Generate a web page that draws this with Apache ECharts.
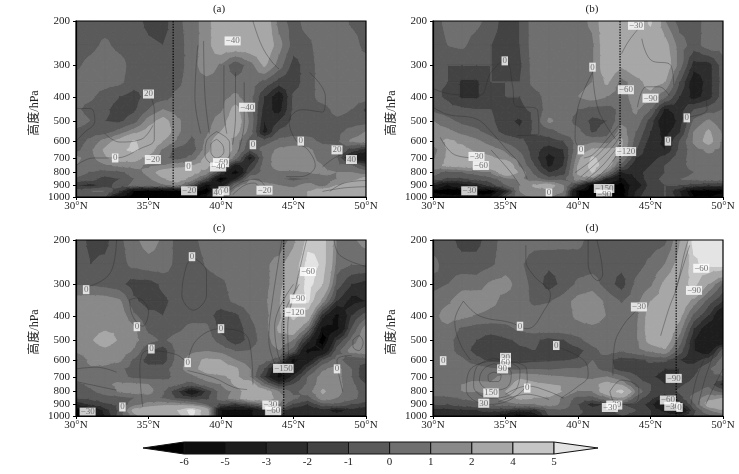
<!DOCTYPE html>
<html><head><meta charset="utf-8"><style>html,body{margin:0;padding:0;background:#fff}#c{width:739px;height:474px}</style>
<script src="https://cdn.jsdelivr.net/npm/echarts@6/dist/echarts.min.js"></script></head><body><div id="c"></div>
<script>
const lats=[30,31,32,33,34,35,36,37,38,39,40,41,42,43,44,45,46,47,48,49,50];
const pressures=[200,250,300,350,400,450,500,550,600,650,700,750,800,850,900,950,1000];
const pressureTicks=[200,300,400,500,600,700,800,900,1000];
const latTicks=[30,35,40,45,50];
const levels=[-6,-5,-3,-2,-1,0,1,2,4,5];
const shades=['#000000','#0e0e0e','#1d1d1d','#2d2d2d','#434343','#5a5a5a','#6f6f6f','#898989','#a7a7a7','#c6c6c6','#e4e4e4'];
const fieldA=[
[-.5,-.5,-.5,-.5,-.6,-1.3,-1.5,-.3,.5,1.5,3,3,3,3,.5,-.5,.5,.6,.6,-.2,-.5],
[-.5,-.3,.2,-.3,-.5,-.8,-1,-.5,.5,1.5,3,3,3,3,1.4,-.5,-.3,.6,.6,.5,-.4],
[-.2,.3,.6,.4,-.5,-.5,-.5,-.5,.5,1.7,.8,-.8,.5,2.2,.5,-1.5,-.5,.5,.6,.6,.5],
[.4,.4,.4,.2,-.5,-.5,-.5,-.3,.6,.6,.6,.3,.5,-.3,-1.5,-1.5,-.5,.5,.6,.6,.5],
[.3,.2,-.5,-1,-1.5,-.5,-.5,.3,.6,.6,.6,1.2,.4,-2,-4,-.8,-.5,.5,.6,.6,.5],
[.2,-.4,-.8,-1.5,-1.2,0,1,.5,.5,.5,.8,2.5,.5,-2.5,-3.5,-.8,-.5,-.5,.4,0,-1.2],
[.5,0,-1,-1.2,-.5,1.5,2.5,1.2,.3,.5,1.5,2.8,.8,-3,-2,-.7,-.5,-.5,-.3,-.5,-.5],
[-.3,-.5,-.6,.3,1.5,2.5,3,1.2,.2,.7,2,2.5,.5,-3.5,-.8,-.5,-.5,-.5,-.3,.3,1],
[-.5,.2,1.4,2.5,4.2,3,2,.8,-.3,1.2,3.2,1.5,-.5,-.6,.3,.5,.4,-.3,-.2,1.2,1.5],
[-.4,.8,2.2,3.5,4.5,2.8,.8,-.5,-.6,1.5,3.5,1.5,-1,.5,1.2,1.4,1.2,.5,.2,-1.5,-2.5],
[1.2,.6,1.8,2.6,2.6,1.5,.3,-.5,.3,2.4,3,.5,-3.5,.2,1.8,1.4,1.4,.6,0,-4,-5],
[1,.5,.8,1.2,1.3,.8,1,1.5,2,2.5,1,-3.5,-2,.5,1.5,1.4,1.4,1,.4,0,-1.5],
[.5,-.1,-.5,-.3,.5,1.3,2.7,3,2.5,1.5,-2,-6,-1,.5,.8,.8,1,1.2,1,1,.5],
[-.3,-.6,-1.5,-1,0,.8,1.8,2.7,1.5,-1,-6.5,-3,1,.3,.2,-.3,0,.5,1,1.5,2.5],
[-2,-2.5,-1.5,-.5,.3,.5,.7,1.2,-1,-5.5,-4,.5,1.8,1.5,1,.7,1.5,.5,2,3,3],
[-.5,0,0,-2,-6,-7,-7,-6.5,-6.5,-7,-1,1.5,2,1.5,1.5,1.5,2,3,3,2.5,3],
[-1,-1,-1,-5,-7,-7,-7,-7,-7,-5,.5,1.5,1.5,1.5,1.5,1.5,2,3,3,3,3]];
const fieldB=[
[-.5,.3,.5,.3,-.5,-1.5,-1,.6,.6,.6,.6,1.2,3,3,3,4.2,1,-.5,-.6,.5,.5],
[-.7,0,.2,-.5,-1,-1.5,-1,.6,.6,.6,.6,.8,3,3.2,3.3,3.3,2.5,.5,-.5,.5,.5],
[-.5,-1,-1,-1,-1,-1.3,-1.2,.5,.6,.6,.6,.8,3,2.2,3,3.2,3,.5,-2.5,-2.5,-.5],
[-1,-1,-2.2,-2.2,-1,-1,-1,.4,.6,.6,.6,1,2.2,.6,1.5,2.5,2,-1,-4,-2.5,-.6],
[-.7,-1.2,-2.2,-2.2,-1.2,-1,-1,-.5,.5,.5,1,1.5,1,.5,1.5,1.6,.2,-2,-3.5,-2.5,-.5],
[-.3,-.6,-.8,-1,-1,-1.6,-1.2,-.8,.5,.4,0,-.5,-.5,.3,1.2,0,-3.2,-2.5,-1,-.5,0],
[1,.3,-.3,-.5,-.8,-1.7,-2.2,-.8,1.2,.5,-.4,-1.3,-1,.7,.7,-1.5,-4.5,-2.6,.2,1.2,.2],
[1.5,1.3,.6,.2,-.5,-1.5,-1.8,-.8,-.5,.4,.3,-1.2,-.5,1.5,0,-2,-3.5,-2.2,1,2.2,.8],
[1.5,2.2,1.8,1.2,.5,-.3,-.8,-1.5,-1.5,-1,.5,.7,.5,2.2,-.5,-2.5,-3.2,-1,1.2,2.5,.8],
[.5,2.1,2.3,1.8,1.4,.8,-.2,-1.6,-2.6,-2,.8,2.2,2.2,2,-1,-3,-3,-.8,.6,1.2,.7],
[.8,2.2,2.5,2.5,2.2,1.4,.5,-1.6,-3.5,-2.3,1.5,4.3,3,1,-2,-2.5,-1.6,-.5,.5,.7,.8],
[1.5,2.3,2.5,3,3,3.5,.8,-1,-3.3,-2,2,4.8,3,-.5,-3,-2,-1,-.3,.3,.8,.8],
[.5,-.5,0,.3,1,3,1.8,-.3,-2,-1.5,2.2,4.2,.8,-3,-2.5,-1.5,-1,-.4,0,.5,.5],
[-.6,-1.2,-1.2,-.8,-.5,.6,1.2,.5,-.6,-.3,1.5,.5,-3,-5.5,-3,-1.3,-.8,0,.2,.4,.4],
[-3,-5,-4,-3,-1.5,0,1,2.2,2.7,1,-2,-6.5,-6.5,-6.5,-4,-1.5,-1,-1,-1.5,-2,-2],
[-6.5,-7,-7,-7,-7,-3,1,1.5,1.5,1,-6,-7,-7,-7,-3,-1.2,-1,-3,-7,-7,-7],
[-5,-5.5,-5.5,-5.5,-5,-1,.8,1,1,.5,-6,-7,-7,-7,-2.5,-1,-1,-2.5,-6,-6,-5]];
const fieldC=[
[-.6,-1.2,-1.3,-.3,.7,1.5,.8,-.4,-.4,.5,.6,.6,.6,.3,0,1.5,4.5,4.8,1,.7,1.5],
[-.6,-1,-.8,-.4,.3,.6,.6,-.4,-.7,.1,.6,.6,.6,.7,1.5,3,5.5,4.8,.5,0,0],
[-.1,-.2,-.4,-.7,-1.5,-1.5,-.8,-.5,-.6,-.5,-.3,.5,.6,.7,1.5,3.2,5.5,4,-.5,-2,-2.5],
[1.5,1.6,1.6,1.2,-.8,-1.5,-1.2,-.7,-.7,-.5,-.4,.2,.6,.8,1.8,4.2,5.2,1.5,-2,-3.5,-3],
[1.6,1.7,1.8,1.7,.2,-.7,-1,-.6,-.6,-.5,-1.6,-1.3,0,.7,1.6,4.5,3,-2.5,-5.5,-2,-.5],
[1.7,1.8,1.9,1.9,1.2,-.3,-.7,-.3,.4,.3,-1.5,-1.8,-.4,.6,2.2,3,.5,-5.5,-5.5,-1,1.6],
[1.6,1.9,2.4,1.9,1.3,.4,-.2,.5,.6,.6,-.5,-1.8,-.6,.5,1.6,1,-2.5,-7,-2,.3,2],
[1.2,1.7,1.8,1.6,.9,-1,-1.6,.3,.7,.9,.6,-.1,0,.6,1,-.5,-5.5,-5,-.5,1.5,1.8],
[-.2,1.3,1.4,1.2,-.2,-1.5,-1.6,.4,1.6,2.2,2,1,.4,.4,-.5,-5.5,-4,-1,.5,-1,-.6],
[.8,.8,.7,.2,-.4,-.6,-.5,.6,1.6,2.5,2.6,2.2,1,-1,-5,-5,-1.5,.8,1.4,0,-2],
[.5,.6,.7,.4,-.3,-.5,-.4,.3,.7,1.5,1.8,2.3,1,-2,-5.5,-2.5,0,1.5,1.4,0,-2],
[-.3,.2,.8,1.2,1.2,1,.6,.1,-.5,.5,1,2.2,3,.2,-2,-1,.2,1.6,1.4,.3,-1],
[-.5,-.2,.4,1.1,1.4,1.4,.1,-1.8,-4.5,-1.8,.5,1.2,3,2.8,1,-.3,.5,2.2,1.3,.4,-.5],
[-1,-.8,-.5,-.5,0,.4,-.1,-1.2,-1.8,-1.3,.5,1.5,3,2.8,1.5,.2,-.5,1.6,1,.3,-.5],
[-3,-1.8,-1.2,-.8,.5,1.3,1.6,1.5,1,-.2,-1.2,-2,-.8,.5,1,-1.2,-2,-.5,-.3,-1,-1.5],
[-7,-5.5,-2.5,-.8,2.5,3,3.5,4,5.5,3,-5,-5.5,-5.5,-3,-1.5,-3,-3,-2.5,-3.5,-2.5,-3],
[-7,-6,-3,-.6,1.5,3.5,3.5,3.5,5.2,3,-5,-5.5,-5.5,-3,-2,-2.5,-2.5,-2.5,-2.5,-2.5,-2.5]];
const fieldD=[
[-.5,-.6,-1.4,-1.4,-.4,.4,.6,.5,.5,.4,.3,-.5,-.5,-.5,-.5,-.5,-.3,1.8,5.5,5.5,5.5],
[.3,-.5,-.6,-.6,-.2,.5,.2,-.7,-.8,-.7,-.5,-.5,-.6,-.7,-.4,.2,1,2.5,4.7,5.5,5.5],
[-.4,0,.6,.5,1.2,1.4,.5,-.4,-1.5,-.7,.2,.5,-.5,-1.5,.2,.8,2.3,3.2,4.5,2,-.3],
[.5,.8,1.6,1.8,1.3,.6,.5,-.3,-.1,.5,1.4,1.7,.7,-.1,.6,2,2.5,3.2,1.5,-.5,-2],
[.6,1.5,1.3,.9,.6,.5,.6,.6,.6,.6,1.2,1.8,.9,.6,.7,2.6,3,2.4,-.3,-2,-5],
[.7,.7,-.2,-.5,-.5,-.3,.2,.5,.6,.6,.6,.6,.6,.6,.8,2.7,3.2,1.5,-2,-4,-4],
[.7,.3,-.5,-1,-1.6,-1.2,-.8,-.8,-1.4,-1,-.3,.5,.6,.5,.8,2.5,3,.5,-3,-5,-5],
[.7,.4,-.5,-1.4,-1.6,-1.6,-1.2,-1,-1.5,-1.7,-1.4,-.4,.5,.1,.7,1.2,1.8,-.5,-3,-4,-.5],
[.6,.5,.2,-.7,-1.3,-1.4,-1.5,-1.3,-1.2,-1.1,-.9,0,-.7,-1.5,-1.4,-.8,-.8,-2,-2.5,-1.5,.5],
[.7,.6,.5,.5,.1,-.2,-.3,-.1,-.2,0,0,.3,-.5,-1.6,-1.5,-1.5,-2,-2,-1.4,-.2,1],
[.7,.7,.8,.7,.8,1.3,1.8,1.5,1.2,1,.9,.7,1,.2,-.9,-1.8,-2.5,-2,-1,-.3,-.2],
[.7,.7,1,1.2,1.1,1.5,2.5,2.2,2,1.9,1.5,1.6,2.5,1.8,-.5,-1,-2,-1.2,-.6,-.3,-2.5],
[.6,.7,1,1,1.2,2,2.8,2.7,2.7,1.9,.9,1,3,4.6,.8,-1,-1.5,-.8,-.3,.5,-.5],
[-.4,-.3,.1,.3,.5,1.5,2.2,2,1.8,.8,-.4,-.5,.8,2,-.5,-1.7,-3,-1.5,.5,1.5,2],
[-.9,-1,-.6,-.3,.2,.4,.9,1,1.5,.7,-1,-2.5,-1.8,-1,-1.2,-2.5,-6,-3,-.2,2.7,3],
[-2.6,-2.5,-2.2,-2,-1.7,-1.8,-2.5,-2.3,-.5,-.2,-.8,-1.5,-1.2,-.8,-1,-2,-3.5,-5.5,-1.2,1,2],
[-2.6,-2.6,-2.6,-2.6,-3,-4,-6.5,-4,-1,-.8,-1,-1.2,-1.2,-1,-1.2,-2,-2.2,-2.5,-1,-.5,0]];
const linesA=[
[[30,750],[31.2,700],[32.7,700],[34.5,640],[35.4,590],[35.4,450],[35.2,405]],
[[32,560],[33,605],[34.5,590],[35.3,520]],
[[30,445],[31,445],[31.3,500],[30.5,560],[30,600]],
[[38.4,250],[38.2,400],[38.6,560]],[[38.8,240],[38.9,400],[39.2,560]],[[40.2,300],[40.2,450],[40.4,560]],[[41,320],[41,480],[40.8,620]],[[41.6,350],[41.6,500],[41.2,660]],
[[39.7,590],[40.1,620],[40.2,660],[39.7,700],[39.3,660],[39.3,620],[39.7,590]],
[[39.7,550],[40.6,610],[40.6,680],[39.7,750],[38.9,680],[39,600],[39.7,550]],
[[42.2,200],[42.8,250],[43.5,290],[44,310]],
[[46.1,320],[47.2,400],[47,460],[45.6,450],[44.7,500],[45.2,600],[46,650],[46.5,750],[45.5,830],[44.5,830]],
[[47,760],[48,690],[49,670],[50,650]],[[47.5,950],[48.5,880],[50,860]],[[47,950],[48.5,920],[50,910]],
[[40.5,950],[41.5,870],[42.5,850],[43,900]],[[40.8,980],[41.6,900],[42.3,880],[42.8,950]]];
const linesB=[
[[30,371],[31.2,390],[33.2,395],[34,320],[35,286],[35.5,365],[35.6,430],[37.2,450],[37.3,560],[35.8,570]],
[[30,440],[31,470],[33,490],[34,550],[35,640],[36,740],[36.5,850]],
[[30.5,580],[31.5,680],[33,700]],[[34,650],[35.3,790],[36,900]],
[[41,320],[40,440],[39.8,590],[40.2,650]],[[41,310],[41.4,450],[42.6,590]],
[[43,270],[43.5,240],[44.3,210]],[[44.4,235],[45,285],[46.4,300],[46.6,360]],
[[44.1,440],[44.7,365],[45.6,365],[46.3,395]],
[[39.8,800],[41,710],[42.4,590],[43,540]],[[40.2,830],[41.2,740],[42.4,630],[43,560]],[[40.6,850],[41.5,770],[42.5,660],[43,600]],[[41,860],[41.9,780],[42.7,680],[43.1,630]],[[40.4,700],[41,680],[42,590],[42.8,520]],
[[47.7,480],[48.9,450],[48.8,390]]];
const linesC=[
[[32.8,200],[32.5,260],[31.8,290],[30.5,310]],
[[38,233],[39,268],[39,330],[38.1,380],[37.3,330],[37.6,255],[38,233]],
[[33.7,345],[34.2,340],[35,385],[34.6,440],[33.9,400],[33.7,345]],
[[37.7,614],[38.3,500],[40,450],[41.9,495],[42.2,750]],
[[34.6,920],[34.4,650],[34.9,550],[36.9,570],[37.7,620]],
[[37.7,660],[39.5,705],[40.9,770],[41.8,785]],
[[30,650],[31.4,640],[32.8,670]],[[30,730],[32.8,790]],
[[45,300],[43.7,440],[43.9,560],[44.3,640]],[[45.4,300],[44.2,440],[44.3,560],[44.4,640]],[[44.2,200],[43.4,400],[43.3,500],[43.8,640]],[[45.9,200],[45.2,300],[44.6,450],[44.7,620]],[[46.4,440],[45.6,500],[45,640]],
[[47.8,200],[48.2,230],[50,255]],
[[49.1,500],[49.5,480],[49.8,510],[49.5,550],[49.1,530],[49.1,500]],
[[48.4,800],[48,600],[49,575]]];
const linesD=[
[[32.1,350],[33.2,400],[35.3,425],[36.5,450],[37.8,370],[38.1,330],[36.9,275],[36.4,240],[36.4,210]],
[[32.1,350],[31.5,420],[31.9,520],[32.6,600]],
[[40.7,200],[40.7,250],[41.4,290],[41.7,275],[41.3,200]],
[[44.3,370],[43.2,430],[42.5,530],[42.4,690]],
[[38.5,530],[40.4,600],[40.7,690],[39.9,770],[38.8,850]],
[[34.2,670],[34.7,690],[34.5,730],[33.9,730],[33.8,690],[34.2,670]],
[[34.2,620],[35.4,670],[35.2,760],[34,790],[33.2,720],[33.5,650],[34.2,620]],
[[34.2,590],[36,660],[35.6,800],[34,850],[32.8,760],[33,640],[34.2,590]],
[[34.4,600],[36.4,640],[36.5,720],[35.5,850],[33.8,900],[32.3,790],[32.6,650],[34.4,600]],
[[35,820],[36.5,760],[38,800],[39,850]],[[34.5,880],[36.5,820],[38,860]],
[[42.2,800],[43,720],[44.2,780],[44,880],[42.7,900],[42.2,800]],
[[49,550],[48.2,700],[47.8,900]],[[49.6,520],[48.8,700],[48.3,900]],[[50,650],[49.4,760],[48.8,900]],
[[46.7,320],[47.7,210]],[[45.7,480],[46.3,370],[46.8,310],[47.3,230],[47.6,200]]];
const labelsA=[['20',35,390],['0',32.7,700],['−20',35.3,710],['0',37.75,755],['−60',40,730],['−40',39.8,760],['−20',37.8,945],['60',40.2,945],['40',39.8,965],['−20',43,940],['−40',40.8,240],['−40',41.8,440],['0',42.2,620],['0',45.5,600],['20',48,650],['40',49,710]];
const labelsB=[['0',34.95,288],['0',41,305],['−60',43.3,375],['−90',45,405],['−30',44,208],['0',47.5,485],['0',46.2,600],['0',40.2,650],['−120',43.3,660],['−30',33,690],['−60',33.3,750],['−30',32.5,945],['0',38,965],['−150',41.8,925],['−90',41.8,975]];
const labelsC=[['0',38,233],['0',30.7,315],['0',34.2,442],['0',35.2,542],['0',40,450],['0',37.7,614],['−60',46,267],['−90',45.3,343],['−120',45.1,387],['−150',44.3,647],['0',48,650],['0',33.2,921],['−30',30.8,965],['−30',43.4,905],['−60',43.6,955]];
const labelsD=[['0',30.7,603],['0',36,440],['0',38.5,525],['30',35,585],['60',35,615],['90',34.8,650],['150',34,810],['30',33.5,890],['0',36.5,775],['−30',44.2,369],['−60',48.5,259],['−90',48,317],['−90',46.6,709],['−60',46.2,864],['−30',46.5,915],['0',47,925],['−30',42.5,905],['−30',42.2,925]];
const sectionLats=[36.7,42.9,44.33,46.77];
const panelNames=['(a)','(b)','(c)','(d)'];
const fields=[fieldA,fieldB,fieldC,fieldD];
const lineSets=[linesA,linesB,linesC,linesD];
const labelSets=[labelsA,labelsB,labelsC,labelsD];
const FONT="'Liberation Serif','Noto Sans CJK SC',serif";
const boxes=[{l:76,t:21,tx:219},{l:433,t:21,tx:592},{l:76,t:240,tx:219},{l:433,t:240,tx:592}];
const W=290,H=176;

function clip(poly,lim,keepAbove){
  const out=[];
  for(let i=0;i<poly.length;i++){
    const a=poly[i],b=poly[(i+1)%poly.length];
    const ia=keepAbove?a[2]>=lim:a[2]<=lim, ib=keepAbove?b[2]>=lim:b[2]<=lim;
    if(ia)out.push(a);
    if(ia!==ib){const t=(lim-a[2])/(b[2]-a[2]);out.push([a[0]+t*(b[0]-a[0]),a[1]+t*(b[1]-a[1]),lim]);}
  }
  return out;
}
function bandOf(v){let i=0;while(i<levels.length&&v>=levels[i])i++;return i;}
function triangleShapes(tri,children){
  const vs=tri.map(p=>p[2]);
  const lo=bandOf(Math.min(...vs)),hi=bandOf(Math.max(...vs));
  for(let b=lo;b<=hi;b++){
    let poly=tri;
    if(b>0)poly=clip(poly,levels[b-1],true);
    if(poly.length&&b<levels.length)poly=clip(poly,levels[b],false);
    if(poly.length<3)continue;
    children.push({type:'polygon',shape:{points:poly.map(p=>[p[0],p[1]])},style:{fill:shades[b],stroke:shades[b],lineWidth:1}});
  }
}
function cellRender(params,api){
  const a=api.coord([api.value(0),api.value(2)]),b=api.coord([api.value(1),api.value(2)]),
        c=api.coord([api.value(1),api.value(3)]),d=api.coord([api.value(0),api.value(3)]);
  const va=api.value(4),vb=api.value(5),vc=api.value(6),vd=api.value(7);
  const m=[(a[0]+c[0])/2,(a[1]+c[1])/2,(va+vb+vc+vd)/4];
  const A=[a[0],a[1],va],B=[b[0],b[1],vb],C=[c[0],c[1],vc],D=[d[0],d[1],vd];
  const children=[];
  [[A,B,m],[B,C,m],[C,D,m],[D,A,m]].forEach(t=>triangleShapes(t,children));
  return {type:'group',children};
}
function cellsOf(f){
  const out=[];
  for(let r=0;r<pressures.length-1;r++)for(let c=0;c<lats.length-1;c++)
    out.push([lats[c],lats[c+1],pressures[r],pressures[r+1],f[r][c],f[r][c+1],f[r+1][c+1],f[r+1][c]]);
  return out;
}
const grid=[],xAxis=[],yAxis=[],series=[],title=[];
panelNames.forEach((nm,i)=>{
  const bx=boxes[i];
  grid.push({left:bx.l,top:bx.t,width:W,height:H,show:true,z:6,backgroundColor:'transparent',borderColor:'#000',borderWidth:1.2});
  title.push({text:nm,left:bx.tx,top:bx.t-17,padding:0,textAlign:'center',textStyle:{fontFamily:FONT,fontSize:11,fontWeight:'normal',color:'#222'}});
  xAxis.push({type:'value',gridIndex:i,min:30,max:50,interval:5,z:6,splitLine:{show:false},
    axisLine:{lineStyle:{color:'#000',width:1.2}},axisTick:{length:3,lineStyle:{color:'#000'}},
    axisLabel:{margin:4,fontFamily:FONT,fontSize:11,color:'#222',formatter:v=>v+'°N',showMinLabel:true,showMaxLabel:true}});
  yAxis.push({type:'log',gridIndex:i,min:200,max:1000,inverse:true,z:6,splitLine:{show:false},minorTick:{show:false},minorSplitLine:{show:false},
    name:'高度/hPa',nameLocation:'middle',nameGap:35,nameRotate:90,nameTextStyle:{fontFamily:FONT,fontSize:12,color:'#222',padding:[0,8,0,0]},
    axisLine:{lineStyle:{color:'#000',width:1.2}},axisTick:{length:3,customValues:pressureTicks,lineStyle:{color:'#000'}},
    axisLabel:{margin:6,fontFamily:FONT,fontSize:11,color:'#222',customValues:pressureTicks,showMinLabel:true,showMaxLabel:true,formatter:v=>String(Math.round(v))}});
  series.push({type:'custom',xAxisIndex:i,yAxisIndex:i,silent:true,z:2,clip:true,renderItem:cellRender,encode:{x:[0,1],y:[2,3]},data:cellsOf(fields[i]),animation:false});
  lineSets[i].forEach(l=>series.push({type:'line',xAxisIndex:i,yAxisIndex:i,silent:true,z:3,smooth:0.4,showSymbol:false,symbol:'none',lineStyle:{color:'#2b2b2b',width:0.5,opacity:.75},data:l,animation:false}));
  series.push({type:'line',xAxisIndex:i,yAxisIndex:i,silent:true,z:4,showSymbol:false,symbol:'none',lineStyle:{color:'#000',width:1.1,type:[1.5,1.2]},data:[[sectionLats[i],200],[sectionLats[i],1000]],animation:false});
  series.push({type:'scatter',xAxisIndex:i,yAxisIndex:i,silent:true,z:5,symbolSize:0,animation:false,clip:false,
    data:labelSets[i].map(t=>({value:[t[1],t[2]],name:t[0]})),
    label:{show:true,position:'inside',formatter:p=>p.name,fontFamily:FONT,fontSize:9,color:'#555',backgroundColor:'#fff',padding:[0,1],lineHeight:9},labelLayout:{hideOverlap:false}});
});
// colour bar
grid.push({left:143,top:442,width:455,height:12,show:false});
xAxis.push({type:'value',gridIndex:4,min:-1,max:10.07,interval:1,splitLine:{show:false},axisLine:{show:false},axisTick:{show:false},
  axisLabel:{margin:3,fontFamily:FONT,fontSize:11,color:'#222',formatter:v=>(v>=0&&v<levels.length)?String(levels[v]):''}});
yAxis.push({type:'value',gridIndex:4,min:0,max:1,show:false});
series.push({type:'custom',xAxisIndex:4,yAxisIndex:4,silent:true,z:2,clip:false,animation:false,encode:{x:0},data:shades.map((s,i)=>[i-1]),
  renderItem(p,api){
    const i=api.value(0),s={fill:shades[i+1],stroke:'#111',lineWidth:1};
    const l=api.coord([i,0]),r=api.coord([i+1,1]);
    if(i===-1){const a=api.coord([-1,.5]),b=api.coord([0,1]),c=api.coord([0,0]);return {type:'polygon',shape:{points:[a,b,c]},style:s};}
    if(i===levels.length-1){const a=api.coord([i+1.07,.5]),b=api.coord([i,1]),c=api.coord([i,0]);return {type:'polygon',shape:{points:[a,b,c]},style:s};}
    return {type:'rect',shape:{x:l[0],y:r[1],width:r[0]-l[0],height:l[1]-r[1]},style:s};
  }});
const chart=echarts.init(document.getElementById('c'),null,{renderer:'canvas'});
chart.setOption({animation:false,backgroundColor:'#fff',title,grid,xAxis,yAxis,series});
</script></body></html>
